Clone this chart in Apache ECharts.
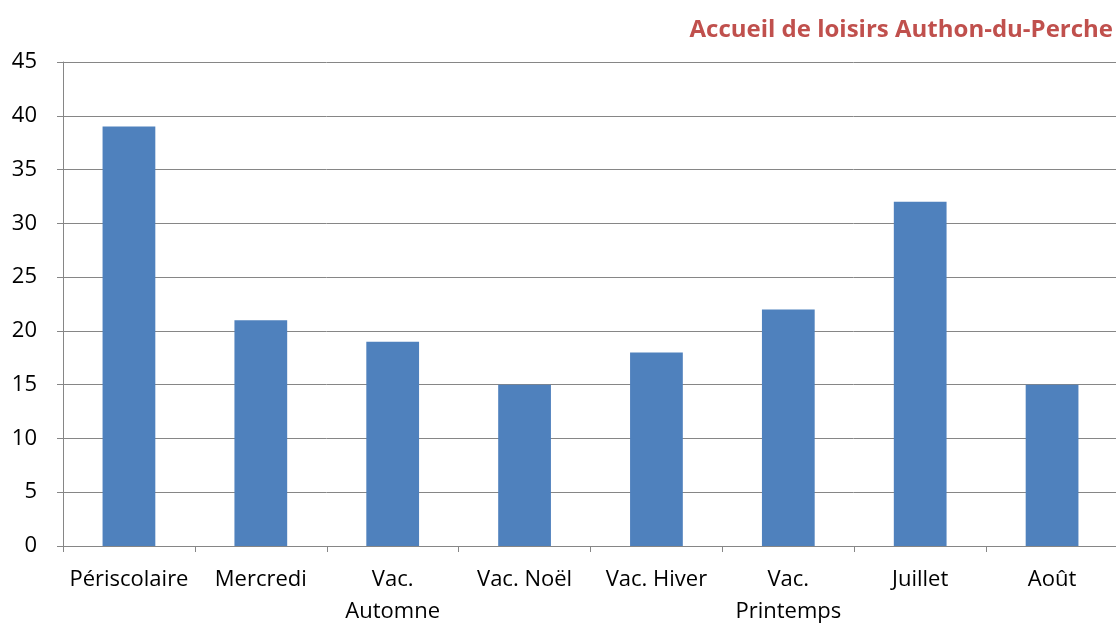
<!DOCTYPE html>
<html>
<head>
<meta charset="utf-8">
<script src="https://cdn.jsdelivr.net/npm/echarts@6/dist/echarts.min.js"></script>
<style>
  html, body { margin: 0; padding: 0; background: #fff; overflow: hidden; }
  #chart { width: 1116px; height: 626px; }
</style>
</head>
<body>
<div id="chart"></div>
<script>
// Participants par période d'accueil
const chartTitle = 'Accueil de loisirs Authon-du-Perche';
const categories = ['Périscolaire', 'Mercredi', 'Vac.\nAutomne', 'Vac. Noël', 'Vac. Hiver', 'Vac.\nPrintemps', 'Juillet', 'Août'];
const values = [39, 21, 19, 15, 18, 22, 32, 15];
const yTicks = { min: 0, max: 45, interval: 5 };

const font = '"Open Sans", sans-serif';
const chart = echarts.init(document.getElementById('chart'), null, { renderer: 'canvas' });
chart.setOption({
  animation: false,
  title: {
    text: chartTitle,
    right: 3,
    top: 18,
    padding: 0,
    textStyle: { color: '#C0504D', fontSize: 24, fontWeight: 'bold', fontFamily: font }
  },
  grid: { left: 63, right: -2, top: 62, height: 484, containLabel: false, outerBoundsMode: 'none' },
  xAxis: {
    type: 'category',
    data: categories,
    axisLine: { lineStyle: { color: '#868686', width: 1 } },
    axisTick: { show: true, length: 6, lineStyle: { color: '#868686' } },
    axisLabel: { color: '#000', fontSize: 22, fontFamily: font, margin: 18, lineHeight: 32, interval: 0 }
  },
  yAxis: {
    type: 'value',
    min: yTicks.min,
    max: yTicks.max,
    interval: yTicks.interval,
    axisLine: { show: true, lineStyle: { color: '#868686', width: 1 } },
    axisTick: { show: true, length: 6, lineStyle: { color: '#868686' } },
    splitLine: { lineStyle: { color: '#868686', width: 1 } },
    axisLabel: { color: '#000', fontSize: 22, fontFamily: font, margin: 26 }
  },
  series: [{
    type: 'bar',
    data: values,
    barWidth: '40%',
    itemStyle: { color: '#4F81BD' }
  }]
});
</script>
</body>
</html>
